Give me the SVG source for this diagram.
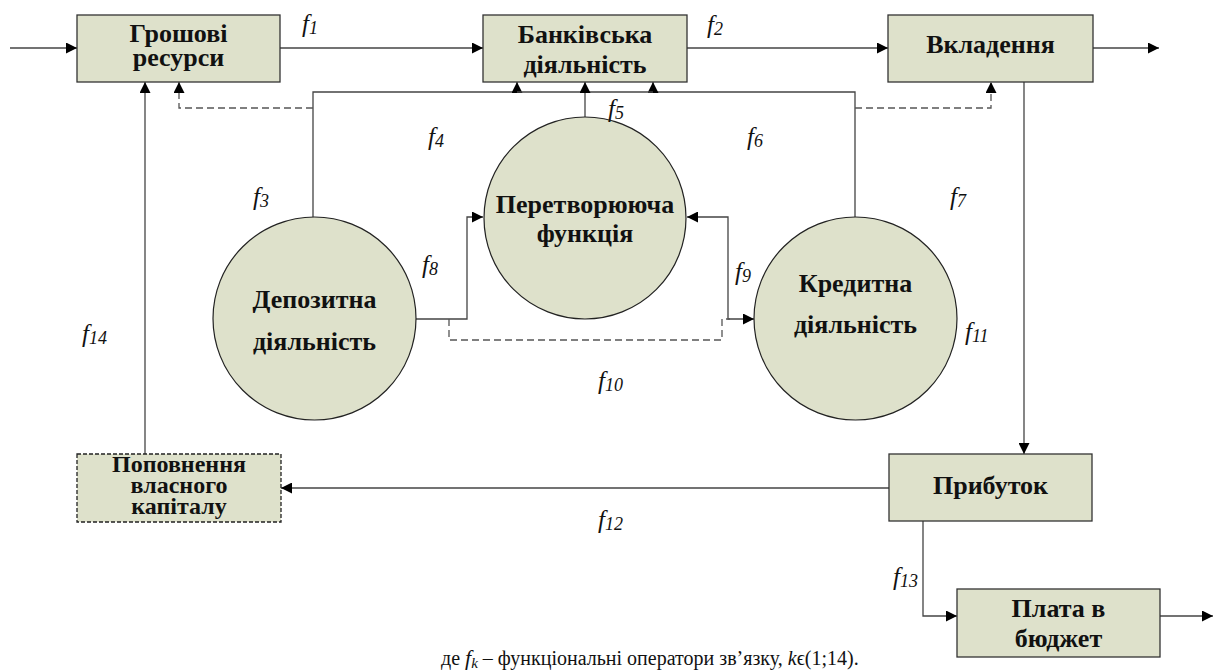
<svg xmlns="http://www.w3.org/2000/svg" width="1214" height="672" viewBox="0 0 1214 672">
  <style>
    .box { fill: #dee1cb; stroke: #333; stroke-width: 1.3; }
    .dbox { fill: #dee1cb; stroke: #222; stroke-width: 1.3; stroke-dasharray: 4 2; }
    .circ { fill: #dee1cb; stroke: #222; stroke-width: 1.2; }
    text { font-family: 'Liberation Serif', Tinos, 'DejaVu Serif', serif; }
    .lbl { font-weight: bold; font-size: 26px; fill: #111; text-anchor: middle; }
    .tight { font-size: 24px; }
    .fn { font-style: italic; font-size: 25px; fill: #111; }
    .sub { font-size: 18px; }
    .ln { fill: none; stroke: #444; stroke-width: 1.3; }
    .dash { fill: none; stroke: #555; stroke-width: 1.3; stroke-dasharray: 7 4; }
    .cap { font-size: 20px; fill: #111; }
  </style>
  <defs>
    <marker id="arr" viewBox="0 0 10 10" refX="10" refY="5" markerWidth="11" markerHeight="11" markerUnits="userSpaceOnUse" orient="auto-start-reverse">
      <path d="M0,0 L10,5 L0,10 Z" fill="#000"/>
    </marker>
  </defs>

  <!-- connectors -->
  <g id="connectors">
    <!-- input into money resources -->
    <line class="ln" x1="10" y1="48" x2="77" y2="48" marker-end="url(#arr)"/>
    <!-- f1 -->
    <line class="ln" x1="280" y1="48" x2="483" y2="48" marker-end="url(#arr)"/>
    <!-- f2 -->
    <line class="ln" x1="687" y1="48" x2="888" y2="48" marker-end="url(#arr)"/>
    <!-- output from investments -->
    <line class="ln" x1="1093" y1="48" x2="1159" y2="48" marker-end="url(#arr)"/>

    <!-- f3 / f4: deposit activity up to banking activity -->
    <polyline class="ln" points="313,217 313,92 517,92 517,82" marker-end="url(#arr)"/>
    <!-- f6: credit activity up to banking activity -->
    <polyline class="ln" points="855,217 855,92 653,92 653,82" marker-end="url(#arr)"/>
    <line class="ln" x1="517" y1="92" x2="653" y2="92"/>
    <!-- f5 -->
    <line class="ln" x1="585" y1="117" x2="585" y2="82" marker-end="url(#arr)"/>

    <!-- dashed feedback to money resources and investments -->
    <polyline class="dash" points="313,108 179,108 179,82" marker-end="url(#arr)"/>
    <polyline class="dash" points="855,108 991,108 991,82" marker-end="url(#arr)"/>

    <!-- f8 -->
    <polyline class="ln" points="416,319 467,319 467,217 483,217" marker-end="url(#arr)"/>
    <!-- f9 (two-way) -->
    <polyline class="ln" points="687,217 728,217 728,319 754,319" marker-start="url(#arr)" marker-end="url(#arr)"/>
    <!-- f10 -->
    <polyline class="dash" points="449,319 449,340 722,340 722,319 730,319"/>

    <!-- f11: investments down to profit -->
    <line class="ln" x1="1024" y1="82" x2="1024" y2="454" marker-end="url(#arr)"/>
    <!-- f12 -->
    <line class="ln" x1="889" y1="488" x2="281" y2="488" marker-end="url(#arr)"/>
    <!-- f13 -->
    <polyline class="ln" points="923,521 923,616 957,616" marker-end="url(#arr)"/>
    <!-- output from budget payment -->
    <line class="ln" x1="1160" y1="616" x2="1213" y2="616" marker-end="url(#arr)"/>
    <!-- f14 -->
    <line class="ln" x1="145" y1="454" x2="145" y2="82" marker-end="url(#arr)"/>
  </g>

  <!-- nodes -->
  <g id="money-resources">
    <rect class="box" x="77" y="15" width="203" height="67"/>
    <text class="lbl" x="178.5" y="42">Грошові</text>
    <text class="lbl" x="178.5" y="66">ресурси</text>
  </g>
  <g id="banking-activity">
    <rect class="box" x="483" y="15" width="204" height="67"/>
    <text class="lbl" x="585" y="43">Банківська</text>
    <text class="lbl" x="585" y="73">діяльність</text>
  </g>
  <g id="investments">
    <rect class="box" x="888" y="15" width="205" height="67"/>
    <text class="lbl" x="990.5" y="53">Вкладення</text>
  </g>
  <g id="transforming-function">
    <circle class="circ" cx="585" cy="218" r="101"/>
    <text class="lbl" x="585" y="213">Перетворююча</text>
    <text class="lbl" x="585" y="242">функція</text>
  </g>
  <g id="deposit-activity">
    <circle class="circ" cx="314.5" cy="318.5" r="101.5"/>
    <text class="lbl" x="314.5" y="308">Депозитна</text>
    <text class="lbl" x="314.5" y="350">діяльність</text>
  </g>
  <g id="credit-activity">
    <circle class="circ" cx="855.5" cy="318.5" r="101.5"/>
    <text class="lbl" x="855.5" y="292">Кредитна</text>
    <text class="lbl" x="855.5" y="333">діяльність</text>
  </g>
  <g id="equity-replenishment">
    <rect class="dbox" x="77" y="454" width="204" height="68"/>
    <text class="lbl tight" x="179" y="472">Поповнення</text>
    <text class="lbl tight" x="179" y="493">власного</text>
    <text class="lbl tight" x="179" y="514">капіталу</text>
  </g>
  <g id="profit">
    <rect class="box" x="889" y="454" width="203" height="67"/>
    <text class="lbl" x="990.5" y="494">Прибуток</text>
  </g>
  <g id="budget-payment">
    <rect class="box" x="957" y="589" width="203" height="68"/>
    <text class="lbl" x="1058.5" y="617">Плата в</text>
    <text class="lbl" x="1058.5" y="647">бюджет</text>
  </g>

  <!-- operator labels -->
  <g id="operator-labels">
    <text class="fn" x="302" y="32">f<tspan class="sub" dy="2">1</tspan></text>
    <text class="fn" x="707" y="33">f<tspan class="sub" dy="2">2</tspan></text>
    <text class="fn" x="253" y="205">f<tspan class="sub" dy="2">3</tspan></text>
    <text class="fn" x="428" y="145">f<tspan class="sub" dy="2">4</tspan></text>
    <text class="fn" x="608" y="117">f<tspan class="sub" dy="2">5</tspan></text>
    <text class="fn" x="747" y="145">f<tspan class="sub" dy="2">6</tspan></text>
    <text class="fn" x="950" y="205">f<tspan class="sub" dy="2">7</tspan></text>
    <text class="fn" x="422" y="273">f<tspan class="sub" dy="2">8</tspan></text>
    <text class="fn" x="735" y="280">f<tspan class="sub" dy="2">9</tspan></text>
    <text class="fn" x="598" y="389">f<tspan class="sub" dy="2">10</tspan></text>
    <text class="fn" x="965" y="340">f<tspan class="sub" dy="2">11</tspan></text>
    <text class="fn" x="598" y="528">f<tspan class="sub" dy="2">12</tspan></text>
    <text class="fn" x="893" y="585">f<tspan class="sub" dy="2">13</tspan></text>
    <text class="fn" x="82" y="342">f<tspan class="sub" dy="2">14</tspan></text>
  </g>

  <!-- caption -->
  <text class="cap" x="441" y="665">де  <tspan font-style="italic" font-size="22">f</tspan><tspan font-style="italic" font-size="15" dy="3">k</tspan><tspan dy="-3"> – функціональні оператори зв’язку, </tspan><tspan font-style="italic">k</tspan>ϵ(1;14).</text>
</svg>
